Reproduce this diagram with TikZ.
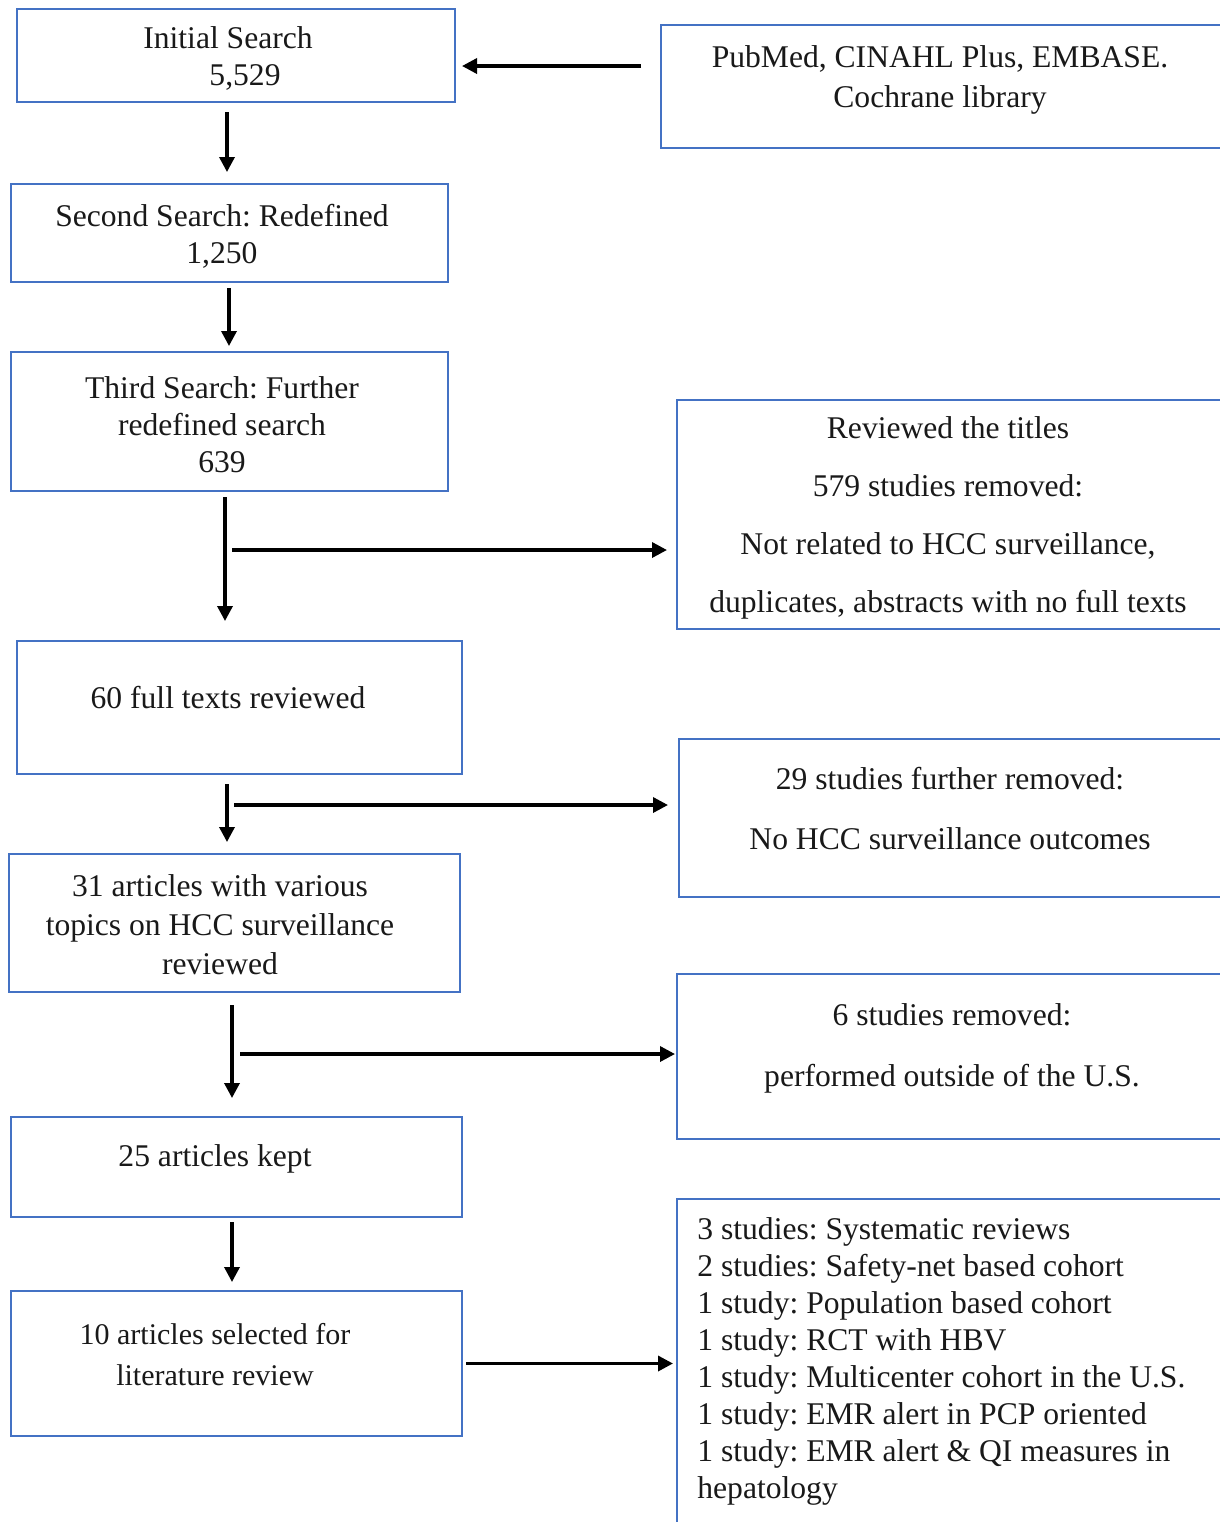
\documentclass[tikz,border=0pt]{standalone}
\usepackage{fontspec}
\setmainfont{Liberation Serif}
\usetikzlibrary{arrows.meta}
\definecolor{boxblue}{RGB}{68,114,196}
\frenchspacing
\begin{document}
\begin{tikzpicture}[x=0.5pt,y=-0.5pt,
  box/.style={draw=boxblue,line width=0.8pt,rectangle,inner sep=0pt,outer sep=0pt},
  txt/.style={align=center,inner sep=0pt,text=black!90,font=\fontsize{15.8}{18.5}\selectfont},
  arr/.style={line width=1.7pt,-{Triangle[length=7.5pt,width=7.5pt]}}]
\useasboundingbox (0,0) rectangle (1220,1522);
\fill[white] (0,0) rectangle (1220,1522);
\clip (0,0) rectangle (1220,1522);
% boxes
\node[box,minimum width=219pt,minimum height=46.5pt] (init) at (236,55.5) {};
\node[box,minimum width=289.5pt,minimum height=61.5pt] (pub) at (950.5,86.5) {};
\node[box,minimum width=218.5pt,minimum height=49pt] (second) at (229.5,233) {};
\node[box,minimum width=218.5pt,minimum height=69.5pt] (third) at (229.5,421.5) {};
\node[box,minimum width=281.5pt,minimum height=114.5pt] (rev) at (958.5,514.5) {};
\node[box,minimum width=222.5pt,minimum height=66.5pt] (sixty) at (239.5,707.5) {};
\node[box,minimum width=280.5pt,minimum height=79pt] (rem29) at (959.5,818) {};
\node[box,minimum width=225.5pt,minimum height=69pt] (n31) at (234.5,923) {};
\node[box,minimum width=281.5pt,minimum height=82.5pt] (rem6) at (958.5,1056.5) {};
\node[box,minimum width=225.5pt,minimum height=50pt] (kept) at (236.5,1167) {};
\node[box,minimum width=225.5pt,minimum height=72.5pt] (ten) at (236.5,1363.5) {};
\node[box,minimum width=281.5pt,minimum height=180.5pt] (last) at (958.5,1379.5) {};
% texts
\node[txt] (tinit) at (228,58.5) {Initial Search\\\hspace*{17pt}5,529};
\node[txt,font=\fontsize{15.8}{20}\selectfont] (tpub) at (940,80) {PubMed, CINAHL Plus, EMBASE.\\Cochrane library};
\node[txt] (tsecond) at (222,236.5) {Second Search: Redefined\\1,250};
\node[txt] (tthird) at (222,425) {Third Search: Further\\redefined search\\639};
\node[txt,font=\fontsize{15.8}{29}\selectfont] (trev) at (948,518) {Reviewed the titles\\579 studies removed:\\Not related to HCC surveillance,\\duplicates, abstracts with no full texts};
\node[txt] (tsixty) at (228,698) {60 full texts reviewed};
\node[txt,font=\fontsize{15.8}{30}\selectfont] (trem29) at (950,809) {29 studies further removed:\\No HCC surveillance outcomes};
\node[txt,font=\fontsize{15.8}{19.5}\selectfont] (tn31) at (220,925) {31 articles with various\\topics on HCC surveillance\\reviewed};
\node[txt,font=\fontsize{15.8}{30.5}\selectfont] (trem6) at (952,1048.5) {6 studies removed:\\performed outside of the U.S.};
\node[txt] (tkept) at (215,1159) {25 articles kept};
\node[txt,font=\fontsize{15}{20.5}\selectfont] (tten) at (215,1354.5) {10 articles selected for\\literature review};
\node[txt,align=left,anchor=west] (tlast) at (697,1361) {3 studies: Systematic reviews\\2 studies: Safety-net based cohort\\1 study: Population based cohort\\1 study: RCT with HBV\\1 study: Multicenter cohort in the U.S.\\1 study: EMR alert in PCP oriented\\1 study: EMR alert \& QI measures in\\hepatology};
% branch points
\coordinate (b1) at (225,550);
\coordinate (b2) at (227,805);
\coordinate (b3) at (232,1054);
\coordinate (yk) at (0,66);
% arrows
\draw[arr,shorten <=10pt,shorten >=3.5pt] (pub.west |- yk) -- (init.east |- yk);
\draw[arr,shorten <=5pt,shorten >=6pt] (init.south -| 227,0) -- (second.north -| 227,0);
\draw[arr,shorten <=3pt,shorten >=3pt] (second.south -| 229,0) -- (third.north -| 229,0);
\draw[arr,shorten <=3pt,shorten >=10pt] (third.south -| b1) -- (sixty.north -| b1);
\draw[arr,shorten <=3.5pt,shorten >=5pt] (b1) -- (b1 -| rev.west);
\draw[arr,shorten <=5pt,shorten >=6pt] (sixty.south -| b2) -- (n31.north -| b2);
\draw[arr,shorten <=3.5pt,shorten >=5.5pt] (b2) -- (b2 -| rem29.west);
\draw[arr,shorten <=6.5pt,shorten >=9.5pt] (n31.south -| b3) -- (kept.north -| b3);
\draw[arr,shorten <=4pt,shorten >=1pt] (b3) -- (b3 -| rem6.west);
\draw[arr,shorten <=2.5pt,shorten >=4.5pt] (kept.south -| b3) -- (ten.north -| b3);
\draw[arr,shorten <=2pt,shorten >=2pt] (ten.east) -- (ten.east -| last.west);
\end{tikzpicture}
\end{document}
